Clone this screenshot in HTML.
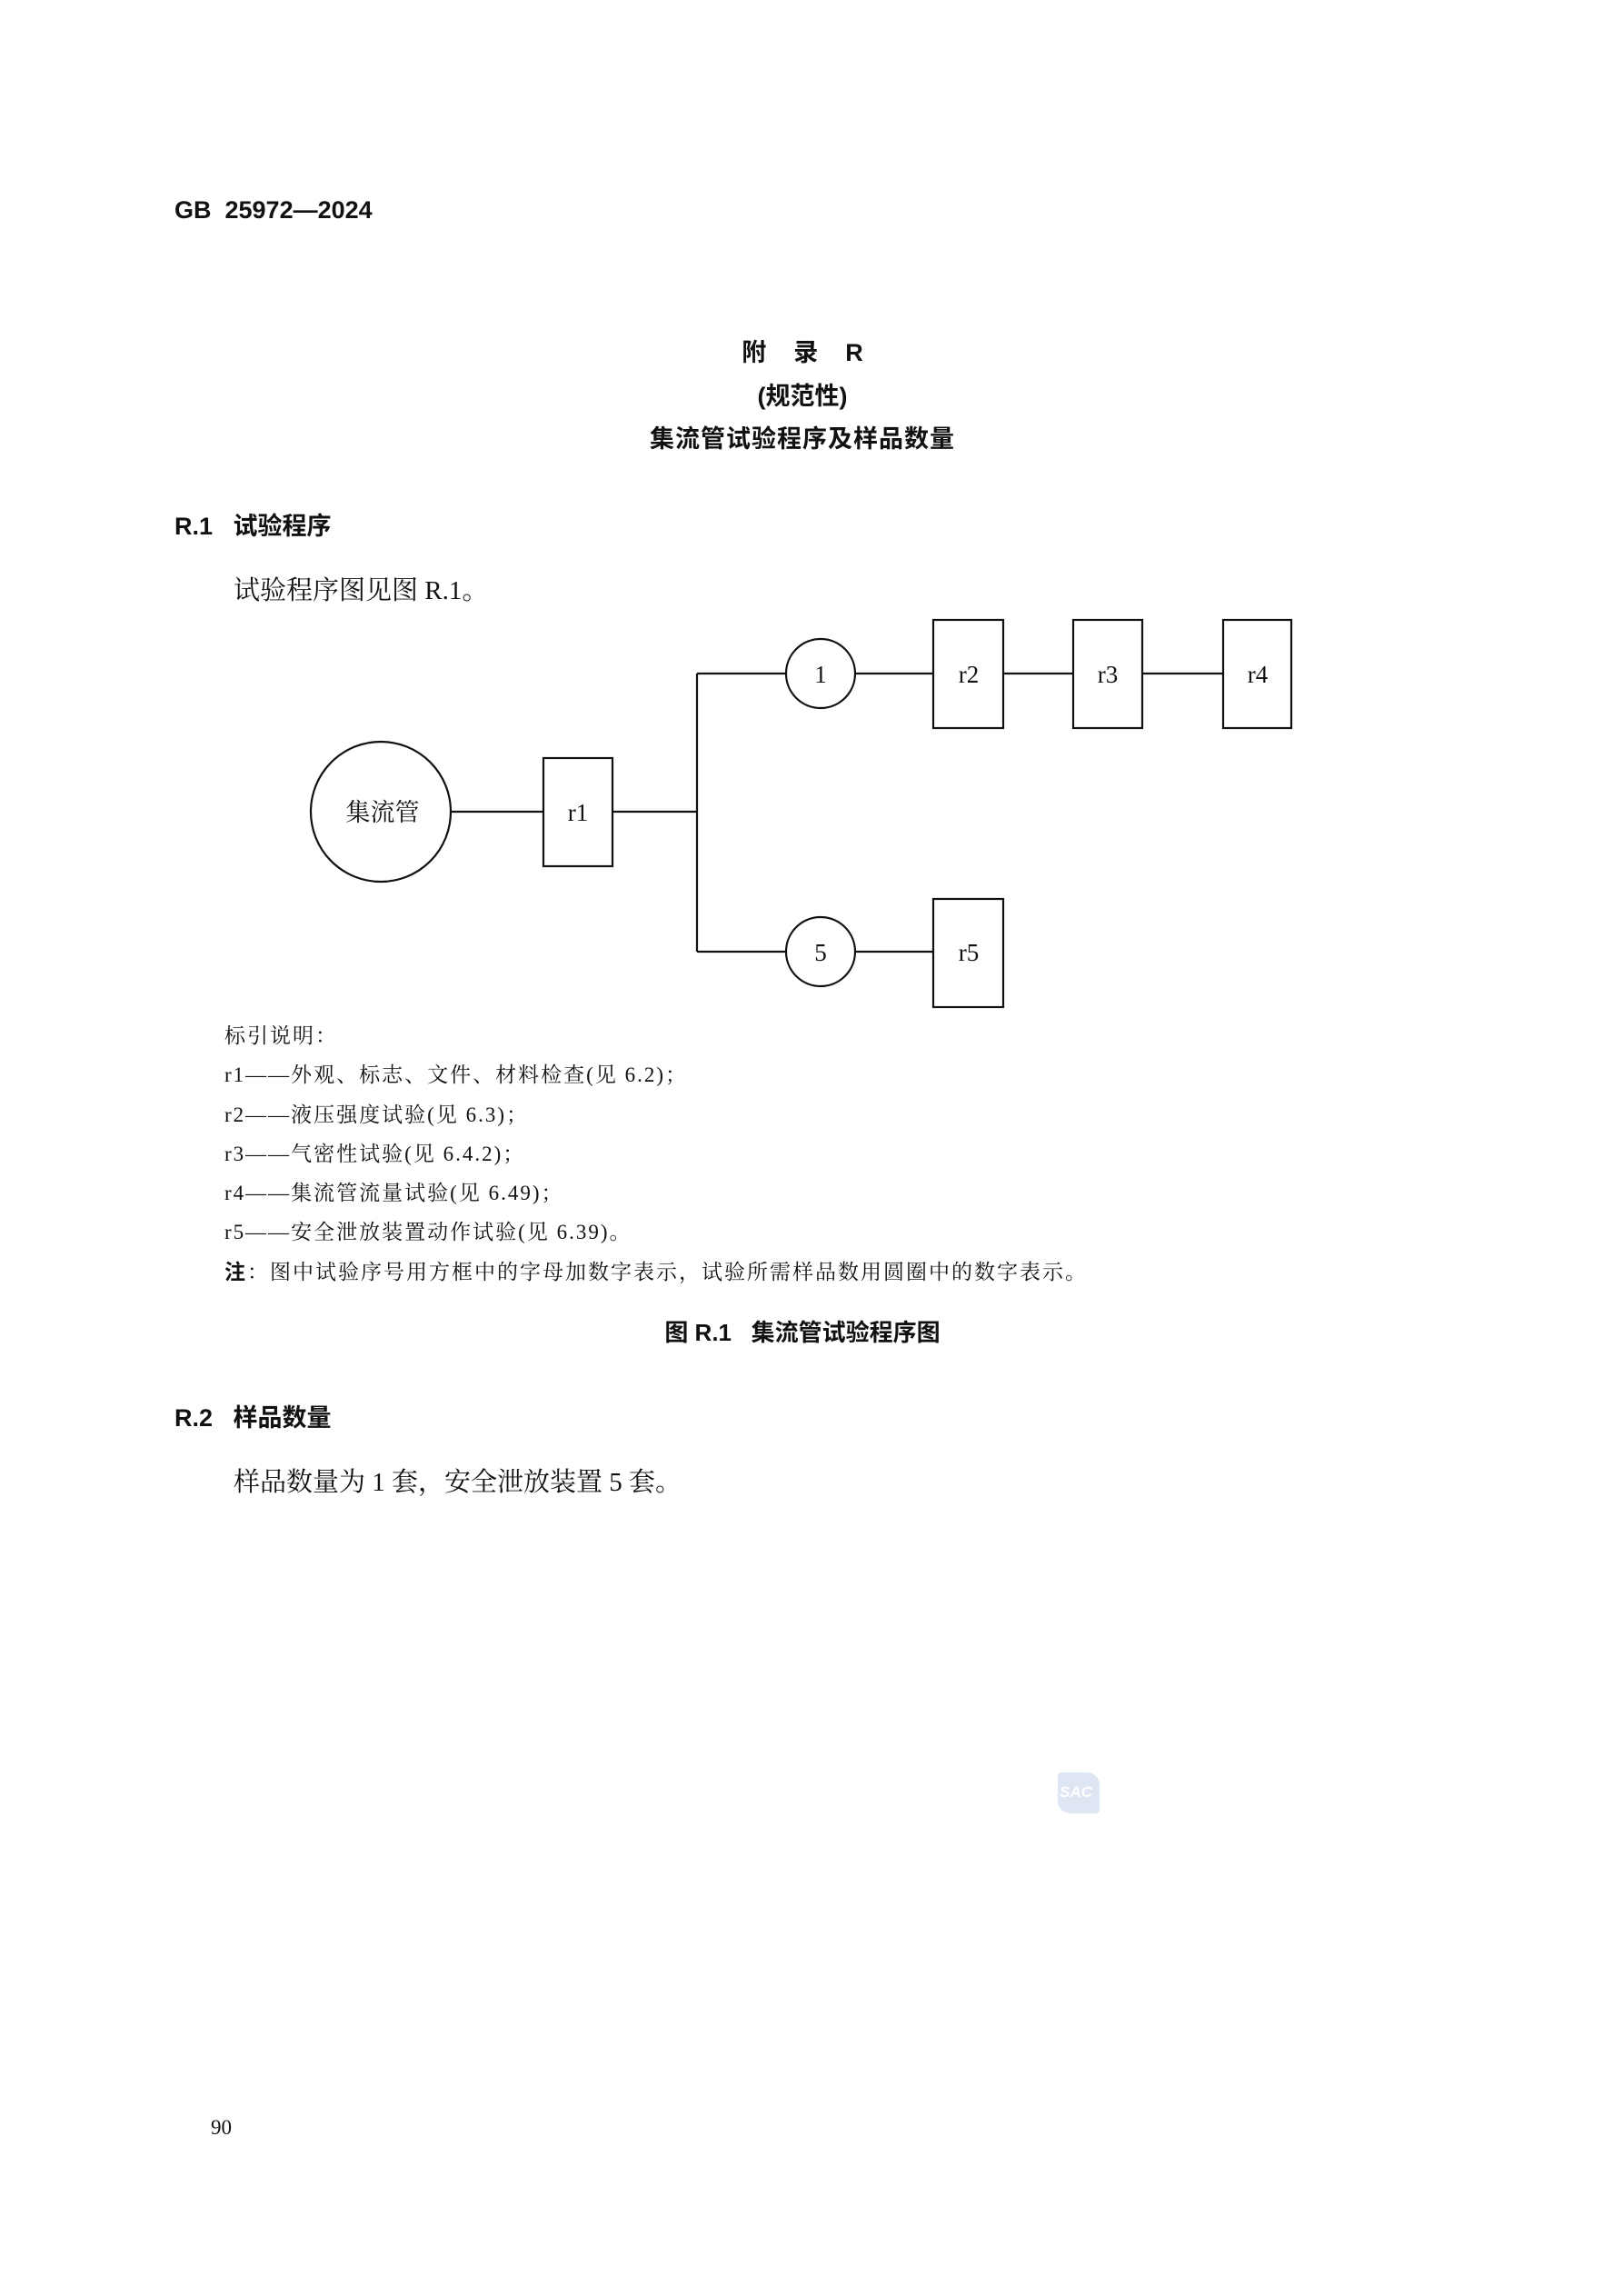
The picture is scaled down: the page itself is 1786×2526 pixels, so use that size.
<!DOCTYPE html>
<html><head><meta charset="utf-8">
<style>
html,body{margin:0;padding:0;background:#fff;}
body{width:1786px;height:2526px;position:relative;overflow:hidden;color:#111;}
.t{position:absolute;white-space:nowrap;line-height:1;}
.serif{font-family:"Liberation Serif","Noto Serif CJK SC",serif;}
.sans{font-family:"Liberation Sans","Noto Sans CJK SC",sans-serif;font-weight:bold;}
</style></head><body>
<div class="t sans" style="left:192px;top:218px;font-size:27px;">GB&nbsp;&nbsp;25972—2024</div>

<div class="t sans" style="left:0;width:1766px;text-align:center;top:375px;font-size:27px;">附&nbsp;&nbsp;&nbsp;&nbsp;录&nbsp;&nbsp;&nbsp;&nbsp;R</div>
<div class="t sans" style="left:0;width:1766px;text-align:center;top:423px;font-size:27px;">(规范性)</div>
<div class="t sans" style="left:0;width:1766px;text-align:center;top:470px;font-size:27px;letter-spacing:1px;">集流管试验程序及样品数量</div>

<div class="t sans" style="left:192px;top:566px;font-size:27px;">R.1&nbsp;&nbsp;&nbsp;试验程序</div>
<div class="t serif" style="left:257px;top:636px;font-size:29px;">试验程序图见图 R.1。</div>

<svg style="position:absolute;left:0;top:0" width="1786" height="1200">
<g stroke="#111" stroke-width="2.2" fill="none">
<circle cx="419" cy="893" r="77"/>
<rect x="598" y="834" width="76" height="119"/>
<line x1="496" y1="893" x2="598" y2="893"/>
<line x1="674" y1="893" x2="767" y2="893"/>
<line x1="767" y1="741" x2="767" y2="1047"/>
<line x1="767" y1="741" x2="865" y2="741"/>
<line x1="767" y1="1047" x2="865" y2="1047"/>
<circle cx="903" cy="741" r="38"/>
<circle cx="903" cy="1047" r="38"/>
<line x1="941" y1="741" x2="1027" y2="741"/>
<line x1="941" y1="1047" x2="1027" y2="1047"/>
<rect x="1027" y="682" width="77" height="119"/>
<rect x="1181" y="682" width="76" height="119"/>
<rect x="1346" y="682" width="75" height="119"/>
<rect x="1027" y="989" width="77" height="119"/>
<line x1="1104" y1="741" x2="1181" y2="741"/>
<line x1="1257" y1="741" x2="1346" y2="741"/>
</g>
<g font-family="Liberation Serif,Noto Serif CJK SC,serif" font-size="27" fill="#111" text-anchor="middle">
<text x="421" y="903">集流管</text>
<text x="636" y="903">r1</text>
<text x="903" y="751">1</text>
<text x="903" y="1057">5</text>
<text x="1066" y="751">r2</text>
<text x="1219" y="751">r3</text>
<text x="1384" y="751">r4</text>
<text x="1066" y="1057">r5</text>
</g>
</svg>

<div class="serif" style="position:absolute;left:247px;top:1118px;font-size:23px;line-height:43.3px;letter-spacing:2px;">
<div>标引说明：</div>
<div>r1——外观、标志、文件、材料检查(见 6.2)；</div>
<div>r2——液压强度试验(见 6.3)；</div>
<div>r3——气密性试验(见 6.4.2)；</div>
<div>r4——集流管流量试验(见 6.49)；</div>
<div>r5——安全泄放装置动作试验(见 6.39)。</div>
<div><b style="font-family:'Liberation Sans','Noto Sans CJK SC',sans-serif;">注</b>：图中试验序号用方框中的字母加数字表示，试验所需样品数用圆圈中的数字表示。</div>
</div>

<div class="t sans" style="left:0;width:1766px;text-align:center;top:1453px;font-size:26px;">图 R.1&nbsp;&nbsp;&nbsp;集流管试验程序图</div>

<div class="t sans" style="left:192px;top:1547px;font-size:27px;">R.2&nbsp;&nbsp;&nbsp;样品数量</div>
<div class="t serif" style="left:257px;top:1617px;font-size:29px;">样品数量为 1 套，安全泄放装置 5 套。</div>

<div style="position:absolute;left:1164px;top:1950px;width:46px;height:45px;background:#dde6f2;border-radius:4px 14px 4px 14px;"></div>
<div class="t" style="left:1166px;top:1963px;font-size:17px;font-style:italic;font-weight:bold;color:#fff;font-family:'Liberation Sans',sans-serif;">SAC</div>

<div class="t serif" style="left:232px;top:2329px;font-size:23px;">90</div>
</body></html>
